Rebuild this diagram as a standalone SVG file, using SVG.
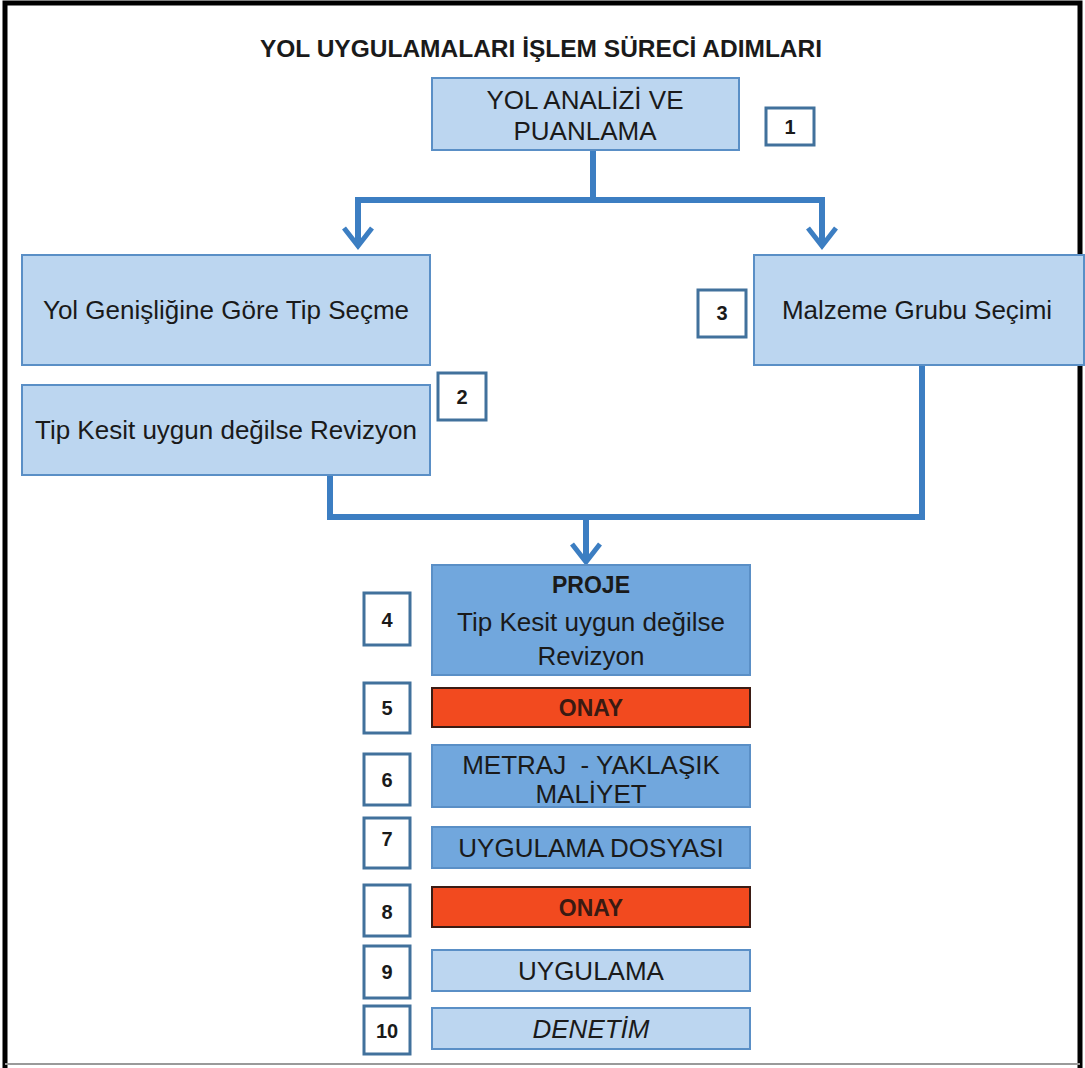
<svg xmlns="http://www.w3.org/2000/svg" width="1085" height="1068" viewBox="0 0 1085 1068">
<style>
text{font-family:"Liberation Sans",Arial,sans-serif;fill:#1a1a1a;text-anchor:middle}
.lt{fill:#bcd6f0;stroke:#5a8fc6;stroke-width:2}
.dk{fill:#71a7dd;stroke:#5a8fc6;stroke-width:2}
.rd{fill:#f24a1f;stroke:#3b1c14;stroke-width:2}
.num{fill:#ffffff;stroke:#41719c;stroke-width:3}
.nt{font-size:20px;font-weight:bold}
.lb{font-size:26px}
.ln{fill:none;stroke:#3c7ec2;stroke-width:6;stroke-linejoin:miter}
.ah{fill:none;stroke:#3c7ec2;stroke-width:5}
</style>
<defs>
<g id="arrow">
<path d="M-14,-18 L0,0 L14,-18" class="ah"/>
<path d="M-6,-6 L6,-6 L0,3 Z" fill="#3c7ec2"/>
</g>
</defs>
<rect x="0" y="0" width="1085" height="1068" fill="#ffffff"/>
<path d="M5,1068 L5,3 L1080,3 L1080,1068" fill="none" stroke="#000" stroke-width="5"/>
<line x1="5" y1="1064" x2="1080" y2="1064" stroke="#9a9a9a" stroke-width="2"/>
<text x="541" y="57" style="font-size:24.5px;font-weight:bold">YOL UYGULAMALARI İŞLEM SÜRECİ ADIMLARI</text>

<g id="connectors">
<path class="ln" d="M593,150 L593,200 M355,200 L825,200 M358,200 L358,243 M822,200 L822,243"/>
<use href="#arrow" x="358" y="246"/>
<use href="#arrow" x="822" y="246"/>
<path class="ln" d="M330,475 L330,517 L922,517 L922,365 M586,517 L586,558"/>
<use href="#arrow" x="586" y="562"/>
</g>

<g id="node1">
<rect class="lt" x="432" y="78" width="307" height="72"/>
<text class="lb" x="585" y="109">YOL ANALİZİ VE</text>
<text class="lb" x="585" y="140">PUANLAMA</text>
</g>
<g id="num1"><rect class="num" x="766" y="108" width="48" height="37"/><text class="nt" x="790" y="134">1</text></g>

<g id="node2a">
<rect class="lt" x="22" y="255" width="408" height="110"/>
<text class="lb" x="226" y="319">Yol Genişliğine Göre Tip Seçme</text>
</g>
<g id="num2"><rect class="num" x="438" y="373" width="48" height="47"/><text class="nt" x="462" y="404">2</text></g>
<g id="node2b">
<rect class="lt" x="22" y="385" width="408" height="90"/>
<text class="lb" x="226" y="439">Tip Kesit uygun değilse Revizyon</text>
</g>

<g id="num3"><rect class="num" x="698" y="290" width="48" height="47"/><text class="nt" x="722" y="320">3</text></g>
<g id="node3">
<rect class="lt" x="754" y="255" width="330" height="110"/>
<text class="lb" x="917" y="319">Malzeme Grubu Seçimi</text>
</g>

<g id="num4"><rect class="num" x="364" y="593" width="46" height="52"/><text class="nt" x="387" y="627">4</text></g>
<g id="node4">
<rect class="dk" x="432" y="565" width="318" height="110"/>
<text x="591" y="593" style="font-size:23px;font-weight:bold">PROJE</text>
<text class="lb" x="591" y="631">Tip Kesit uygun değilse</text>
<text class="lb" x="591" y="665">Revizyon</text>
</g>

<g id="num5"><rect class="num" x="364" y="683" width="46" height="50"/><text class="nt" x="387" y="715">5</text></g>
<g id="node5">
<rect class="rd" x="432" y="688" width="318" height="39"/>
<text x="591" y="716" style="font-size:23px;font-weight:bold;fill:#3a1a12">ONAY</text>
</g>

<g id="num6"><rect class="num" x="364" y="754" width="46" height="51"/><text class="nt" x="387" y="787">6</text></g>
<g id="node6">
<rect class="dk" x="432" y="745" width="318" height="62"/>
<text class="lb" x="591" y="774" xml:space="preserve">METRAJ  - YAKLAŞIK</text>
<text class="lb" x="591" y="803">MALİYET</text>
</g>

<g id="num7"><rect class="num" x="364" y="818" width="46" height="50"/><text class="nt" x="387" y="846">7</text></g>
<g id="node7">
<rect class="dk" x="432" y="827" width="318" height="41"/>
<text class="lb" x="591" y="857">UYGULAMA DOSYASI</text>
</g>

<g id="num8"><rect class="num" x="364" y="885" width="46" height="51"/><text class="nt" x="387" y="919">8</text></g>
<g id="node8">
<rect class="rd" x="432" y="887" width="318" height="40"/>
<text x="591" y="916" style="font-size:23px;font-weight:bold;fill:#3a1a12">ONAY</text>
</g>

<g id="num9"><rect class="num" x="364" y="946" width="46" height="52"/><text class="nt" x="387" y="979">9</text></g>
<g id="node9">
<rect class="lt" x="432" y="950" width="318" height="41"/>
<text class="lb" x="591" y="980">UYGULAMA</text>
</g>

<g id="num10"><rect class="num" x="364" y="1006" width="46" height="48"/><text class="nt" x="387" y="1038">10</text></g>
<g id="node10">
<rect class="lt" x="432" y="1008" width="318" height="41"/>
<text class="lb" x="591" y="1038" style="font-style:italic">DENETİM</text>
</g>
</svg>
